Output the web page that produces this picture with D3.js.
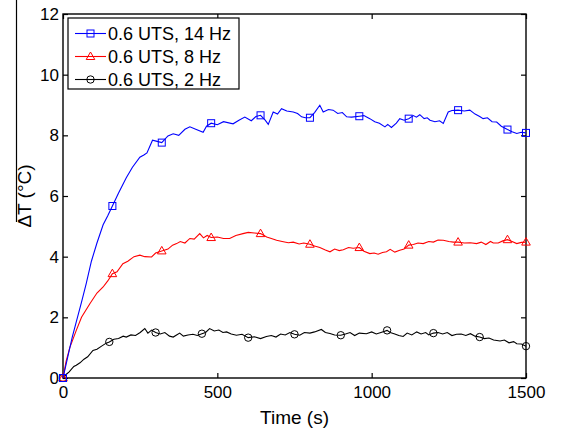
<!DOCTYPE html>
<meta charset="utf-8">
<script src="https://d3js.org/d3.v7.min.js"></script>
<style>
  body { margin: 0; background: #fff; }
  text { font-family: "Liberation Sans", Arial, sans-serif; }
</style>
<div id="my_dataviz"></div>
<script>

// series: [time (s), dT (C)]
var hz14 = [
  [0,0],[10,0.45],[20,0.9],[30,1.35],[43,1.85],[60,2.5],[75,3.1],[92,3.85],[110,4.45],
  [130,5.05],[145,5.35],[160,5.67],[180,6.1],[205,6.6],[225,6.95],[249,7.28],[262,7.35],
  [272,7.42],[290,7.84],[305,7.8],[320,7.76],[340,7.98],[357,8.05],[375,8.0],[395,8.2],
  [411,8.28],[430,8.2],[454,8.1],[465,8.3],[480,8.4],[500,8.35],[520,8.45],[551,8.38],
  [570,8.5],[589,8.6],[610,8.48],[625,8.62],[640,8.66],[655,8.5],[665,8.36],[681,8.77],
  [695,8.7],[708,8.88],[725,8.8],[746,8.77],[760,8.72],[773,8.61],[785,8.58],[800,8.58],
  [815,8.75],[832,8.99],[843,8.77],[860,8.85],[875,8.83],[890,8.72],[905,8.75],[919,8.61],
  [935,8.6],[960,8.63],[975,8.65],[994,8.55],[1010,8.45],[1025,8.4],[1043,8.28],[1052,8.36],
  [1064,8.26],[1080,8.4],[1091,8.55],[1105,8.5],[1120,8.55],[1135,8.65],[1145,8.6],
  [1156,8.68],[1170,8.55],[1180,8.58],[1189,8.5],[1205,8.45],[1220,8.48],[1232,8.39],
  [1248,8.77],[1260,8.82],[1280,8.83],[1300,8.8],[1318,8.83],[1335,8.7],[1350,8.62],
  [1361,8.55],[1375,8.58],[1390,8.45],[1405,8.44],[1420,8.3],[1440,8.19],[1455,8.12],
  [1470,8.06],[1485,8.1],[1500,8.08]
];

var hz8 = [
  [0,0],[10,0.55],[22,1.0],[43,1.57],[60,2.0],[87,2.45],[110,2.8],[130,3.0],[145,3.2],
  [160,3.44],[175,3.5],[194,3.77],[210,3.85],[230,4.0],[249,4.05],[265,4.0],[287,3.99],
  [300,4.12],[320,4.19],[340,4.25],[355,4.38],[368,4.43],[380,4.5],[395,4.45],[411,4.6],
  [425,4.58],[443,4.76],[455,4.62],[467,4.7],[480,4.63],[500,4.65],[520,4.6],[540,4.6],
  [560,4.7],[583,4.76],[600,4.8],[620,4.78],[640,4.76],[660,4.65],[675,4.6],[692,4.54],
  [710,4.5],[730,4.46],[746,4.48],[765,4.42],[780,4.45],[800,4.41],[815,4.35],[832,4.3],
  [850,4.22],[865,4.16],[880,4.25],[895,4.2],[908,4.23],[925,4.3],[940,4.28],[960,4.3],
  [975,4.18],[994,4.1],[1008,4.12],[1021,4.08],[1035,4.14],[1048,4.16],[1060,4.24],
  [1075,4.15],[1091,4.21],[1105,4.25],[1120,4.38],[1135,4.4],[1150,4.45],[1167,4.43],
  [1185,4.5],[1200,4.48],[1215,4.55],[1232,4.54],[1250,4.5],[1265,4.48],[1280,4.48],
  [1300,4.45],[1320,4.46],[1340,4.43],[1355,4.48],[1370,4.4],[1385,4.5],[1394,4.45],
  [1410,4.45],[1425,4.52],[1440,4.56],[1455,4.5],[1470,4.43],[1485,4.47],[1500,4.48]
];

var hz2 = [
  [0,0],[8,0.1],[20,0.2],[35,0.38],[43,0.42],[55,0.5],[68,0.62],[80,0.7],[97,0.91],
  [110,0.95],[125,1.05],[140,1.15],[150,1.19],[165,1.28],[180,1.3],[195,1.38],[205,1.35],
  [220,1.42],[235,1.4],[250,1.5],[265,1.63],[275,1.48],[287,1.58],[300,1.5],[315,1.45],
  [330,1.5],[345,1.38],[357,1.35],[368,1.42],[378,1.48],[390,1.38],[405,1.42],[421,1.44],
  [435,1.4],[450,1.46],[462,1.5],[475,1.63],[490,1.55],[505,1.58],[518,1.5],[530,1.52],
  [545,1.45],[562,1.41],[580,1.44],[600,1.33],[620,1.36],[640,1.3],[659,1.37],[675,1.4],
  [690,1.35],[705,1.45],[720,1.42],[735,1.5],[750,1.44],[767,1.41],[782,1.5],[800,1.48],
  [815,1.52],[837,1.6],[850,1.5],[865,1.47],[880,1.42],[900,1.41],[915,1.45],[930,1.5],
  [945,1.4],[960,1.48],[983,1.46],[1000,1.52],[1015,1.45],[1030,1.5],[1050,1.57],
  [1060,1.5],[1075,1.45],[1088,1.4],[1102,1.37],[1115,1.48],[1130,1.42],[1146,1.52],
  [1160,1.45],[1175,1.5],[1185,1.42],[1200,1.48],[1215,1.5],[1230,1.45],[1245,1.5],
  [1260,1.4],[1275,1.44],[1290,1.45],[1305,1.4],[1320,1.46],[1335,1.38],[1350,1.35],
  [1365,1.3],[1380,1.32],[1395,1.25],[1416,1.22],[1430,1.25],[1445,1.16],[1460,1.2],
  [1470,1.13],[1485,1.12],[1500,1.05]
];

// times where the markers sit
var marks14 = [0,160,320,480,640,800,960,1120,1280,1440,1500];
var marks8  = [0,160,320,480,640,800,960,1120,1280,1440,1500];
var marks2  = [0,150,300,450,600,750,900,1050,1200,1350,1500];

var legendLabels = ["0.6 UTS, 14 Hz", "0.6 UTS, 8 Hz", "0.6 UTS, 2 Hz"];
var xTicks = [0, 500, 1000, 1500];
var yTicks = [0, 2, 4, 6, 8, 10, 12];

var series = [
  {data: hz14, marks: marks14, color: "#0000ff", shape: "square"},
  {data: hz8,  marks: marks8,  color: "#ff0000", shape: "triangle"},
  {data: hz2,  marks: marks2,  color: "#000000", shape: "circle"}
];

var margin = {top: 14, right: 37, bottom: 54, left: 63},
    width = 563 - margin.left - margin.right,
    height = 432 - margin.top - margin.bottom;

var root = d3.select("#my_dataviz")
  .append("svg")
    .attr("width", 563)
    .attr("height", 432);

// stray edge line from the scan
root.append("line")
  .attr("x1", 16.5).attr("x2", 16.5).attr("y1", 0).attr("y2", 222)
  .attr("stroke", "#000").attr("stroke-width", 1.2);

var svg = root.append("g")
    .attr("transform", "translate(" + margin.left + "," + margin.top + ")");

var x = d3.scaleLinear().domain([0, 1500]).range([0, width]);
var y = d3.scaleLinear().domain([0, 12]).range([height, 0]);

// axes, ticks pointing inward like matlab
function styleAxis(g) {
  g.select(".domain").remove();
  g.selectAll("line").attr("stroke", "#000").attr("stroke-width", 1.2);
  g.selectAll("text").attr("font-size", 17).attr("fill", "#000");
}
svg.append("g")
  .attr("transform", "translate(0," + height + ")")
  .call(d3.axisBottom(x).tickValues(xTicks).tickFormat(d3.format("d")).tickSizeInner(-5).tickPadding(8))
  .call(styleAxis);
svg.append("g")
  .call(d3.axisLeft(y).tickValues(yTicks).tickSizeInner(-5).tickPadding(4))
  .call(styleAxis);
svg.append("g")
  .call(d3.axisTop(x).tickValues(xTicks).tickFormat("").tickSizeInner(-5))
  .call(styleAxis);
svg.append("g")
  .attr("transform", "translate(" + width + ",0)")
  .call(d3.axisRight(y).tickValues(yTicks).tickFormat("").tickSizeInner(-5))
  .call(styleAxis);

svg.append("rect")
  .attr("width", width).attr("height", height)
  .attr("fill", "none").attr("stroke", "#000").attr("stroke-width", 1.4);

var line = d3.line()
  .x(function(d) { return x(d[0]); })
  .y(function(d) { return y(d[1]); });

function marker(g, shape, color) {
  if (shape === "square") {
    g.append("rect").attr("x", -3.5).attr("y", -3.5).attr("width", 7).attr("height", 7);
  } else if (shape === "triangle") {
    g.append("path").attr("d", "M0,-4.5L4.3,3L-4.3,3Z");
  } else {
    g.append("circle").attr("r", 3.7);
  }
  g.selectAll("*").attr("fill", "none").attr("stroke", color).attr("stroke-width", 1);
}

// draw black first so blue sits on top
series.slice().reverse().forEach(function(s) {
  svg.append("path")
    .datum(s.data)
    .attr("fill", "none")
    .attr("stroke", s.color)
    .attr("stroke-width", 1.1)
    .attr("d", line);
  s.data.filter(function(d) { return s.marks.indexOf(d[0]) >= 0; }).forEach(function(d) {
    var g = svg.append("g").attr("transform", "translate(" + x(d[0]) + "," + y(d[1]) + ")");
    marker(g, s.shape, s.color);
  });
});

// axis titles
svg.append("text")
  .attr("x", width / 2).attr("y", height + 46)
  .attr("text-anchor", "middle").attr("font-size", 19)
  .text("Time (s)");
svg.append("text")
  .attr("transform", "translate(-32," + (height / 2) + ") rotate(-90)")
  .attr("text-anchor", "middle").attr("font-size", 19)
  .text("\u0394T (\u00b0C)");

// legend
var leg = svg.append("g").attr("transform", "translate(5,4)");
leg.append("rect")
  .attr("width", 171).attr("height", 71)
  .attr("fill", "#fff").attr("stroke", "#000").attr("stroke-width", 1.2);
legendLabels.forEach(function(lab, i) {
  var cy = 15.5 + i * 23;
  var s = series[i];
  leg.append("line")
    .attr("x1", 7).attr("x2", 38).attr("y1", cy).attr("y2", cy)
    .attr("stroke", s.color).attr("stroke-width", 1.1);
  var g = leg.append("g").attr("transform", "translate(22.5," + cy + ")");
  marker(g, s.shape, s.color);
  leg.append("text")
    .attr("x", 40).attr("y", cy).attr("dy", "0.35em")
    .attr("font-size", 18)
    .text(lab);
});

</script>
